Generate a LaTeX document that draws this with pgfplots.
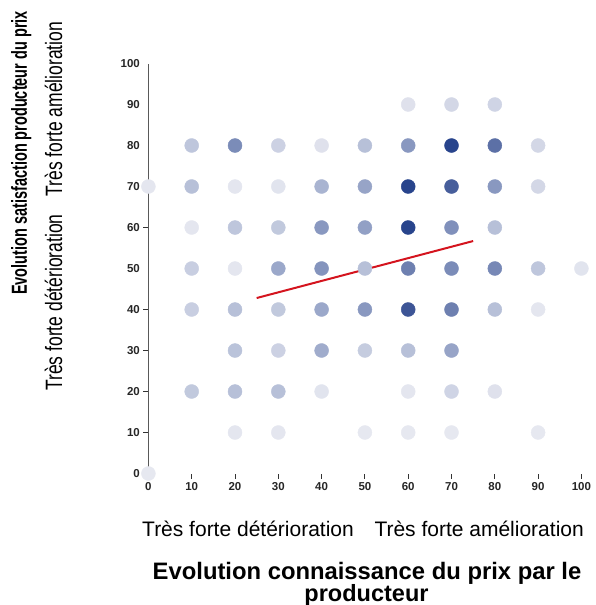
\documentclass[border=0pt]{standalone}
\usepackage{fontspec}
\setmainfont{Liberation Sans}
\usepackage{graphicx}
\usepackage{pgfplots}
\pgfplotsset{compat=1.18}
\begin{document}
\begin{tikzpicture}
\begin{axis}[
  at={(148.4pt,-473.5pt)}, anchor=south west,
  scale only axis, width=433pt, height=410pt,
  xmin=0, xmax=100, ymin=0, ymax=100,
  clip=false,
  axis lines*=left,
  x axis line style={draw=none},
  y axis line style={-, draw=black!65, line width=1.3pt, shorten <=-5pt},
  tick align=outside,
  major tick length=5pt,
  xtick={0,10,...,100},
  ytick={0,10,...,100},
  x tick style={draw=black!80, line width=0.9pt},
  y tick style={draw=none},
  extra y ticks={10,20,30,40,60},
  extra y tick labels={},
  extra y tick style={y tick style={draw=black!80, line width=0.9pt}},
  /pgf/number format/assume math mode=true,
  ticklabel style={font=\fontsize{11.5}{14}\selectfont\bfseries, text=black!85},
  colormap={dots}{rgb255(0)=(243,243,246); rgb255(1)=(218,221,234); rgb255(2)=(183,192,216); rgb255(3)=(137,152,192); rgb255(4)=(92,112,166); rgb255(5)=(40,68,140)},
  point meta min=0, point meta max=5,
]
\addplot[scatter, only marks, mark=*, mark size=7pt,
  scatter/use mapped color={draw=mapped color, fill=mapped color},
  point meta=explicit]
  table[meta=c] {
x y c
60 90 0.8
70 90 1.2
80 90 1.3
10 80 1.8
20 80 3.3
30 80 1.4
40 80 0.8
50 80 2.0
60 80 3.0
70 80 5.0
80 80 4.0
90 80 1.2
0 70 0.6
10 70 2.0
20 70 0.6
30 70 0.7
40 70 2.3
50 70 2.7
60 70 5.0
70 70 4.4
80 70 3.0
90 70 1.2
10 60 0.6
20 60 1.8
30 60 1.7
40 60 3.0
50 60 2.8
60 60 5.0
70 60 3.2
80 60 2.0
10 50 1.5
20 50 0.6
30 50 2.6
40 50 3.1
50 50 2.0
60 50 3.6
70 50 3.3
80 50 3.4
90 50 1.8
100 50 0.7
10 40 1.5
20 40 2.0
30 40 1.7
40 40 2.6
50 40 3.0
60 40 4.6
70 40 3.6
80 40 2.0
90 40 0.6
20 30 1.9
30 30 1.4
40 30 2.5
50 30 1.6
60 30 2.0
70 30 2.7
10 20 1.7
20 20 2.0
30 20 2.0
40 20 0.7
60 20 0.6
70 20 1.3
80 20 0.8
20 10 0.6
30 10 0.6
50 10 0.5
60 10 0.5
70 10 0.5
90 10 0.5
0 0 0.5
};
\addplot[color={rgb,255:red,212;green,20;blue,30}, line width=2pt] coordinates {(25,42.8) (75,56.7)};
\end{axis}
\node[rotate=90, anchor=base, inner sep=0pt] at (27pt,-153pt) {\fontsize{14.5}{17}\selectfont\bfseries\scalebox{1}[1.5]{Evolution satisfaction producteur du prix}};
\node[rotate=90, anchor=base, inner sep=0pt] at (62pt,-109pt) {\fontsize{17.5}{20}\selectfont\scalebox{1}[1.35]{Très forte amélioration}};
\node[rotate=90, anchor=base, inner sep=0pt] at (62pt,-302.5pt) {\fontsize{17.5}{20}\selectfont\scalebox{1}[1.35]{Très forte détérioration}};
\node[anchor=base west, inner sep=0pt] at (142pt,-536pt) {\fontsize{21}{24}\selectfont Très forte détérioration};
\node[anchor=base east, inner sep=0pt] at (584pt,-536pt) {\fontsize{21}{24}\selectfont Très forte amélioration};
\node[anchor=base, inner sep=0pt] at (367pt,-579pt) {\fontsize{23.8}{26}\selectfont\bfseries Evolution connaissance du prix par le};
\node[anchor=base, inner sep=0pt] at (366.5pt,-601.5pt) {\fontsize{23.5}{26}\selectfont\bfseries producteur};
\pgfresetboundingbox
\useasboundingbox (0pt,0pt) rectangle (596pt,-605pt);
\end{tikzpicture}
\end{document}
